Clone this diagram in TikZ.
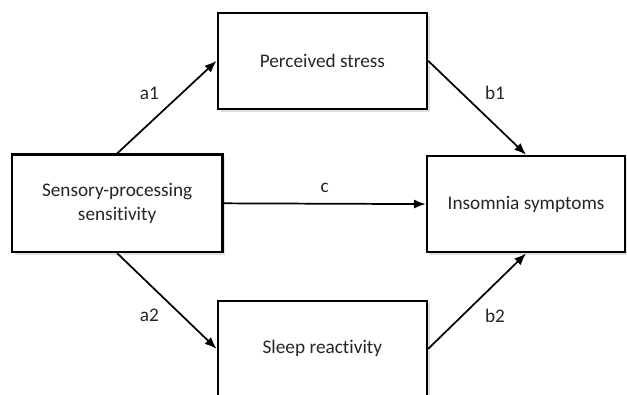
\documentclass[tikz,border=0pt]{standalone}
\usepackage{fontspec}
\setmainfont{Carlito}[Ligatures=NoCommon]
\usepackage{tikz}
\usetikzlibrary{arrows.meta,shadows}

\begin{document}
\begin{tikzpicture}[font=\fontsize{14.5}{17.5}\selectfont,
  box/.style={draw,line width=2pt,fill=white,align=center,text=black!85,
    drop shadow={opacity=0.25,shadow xshift=2pt,shadow yshift=-2pt}},
  path/.style={-{Latex[length=9pt,width=7pt]},line width=1.3pt}]
\useasboundingbox (0,0) rectangle (16.59,-10.45);
\node[box,minimum width=5.56cm,minimum height=2.57cm] (sps) at (3.10,-5.38) {Sensory-processing\\sensitivity};
\node[box,minimum width=5.53cm,minimum height=2.54cm] (stress) at (8.53,-1.61) {Perceived stress};
\node[box,minimum width=5.53cm,minimum height=2.54cm] (sleep) at (8.53,-9.23) {Sleep reactivity};
\node[box,minimum width=5.24cm,minimum height=2.54cm] (ins) at (13.92,-5.40) {Insomnia symptoms};
\draw[path] (sps.north) -- (stress.west) node[midway,above left=2pt,text=black!85] (la1) {a1};
\draw[path] (sps.south) -- (sleep.west) node[midway,below left=2pt,text=black!85] (la2) {a2};
\draw[path] (sps.east) -- (ins.west) node[midway,above=4pt,text=black!85] (lc) {c};
\draw[path] (stress.east) -- (ins.north) node[midway,above right=2pt,text=black!85] (lb1) {b1};
\draw[path] (sleep.east) -- (ins.south) node[midway,below right=2pt,text=black!85] (lb2) {b2};
\end{tikzpicture}
\end{document}
